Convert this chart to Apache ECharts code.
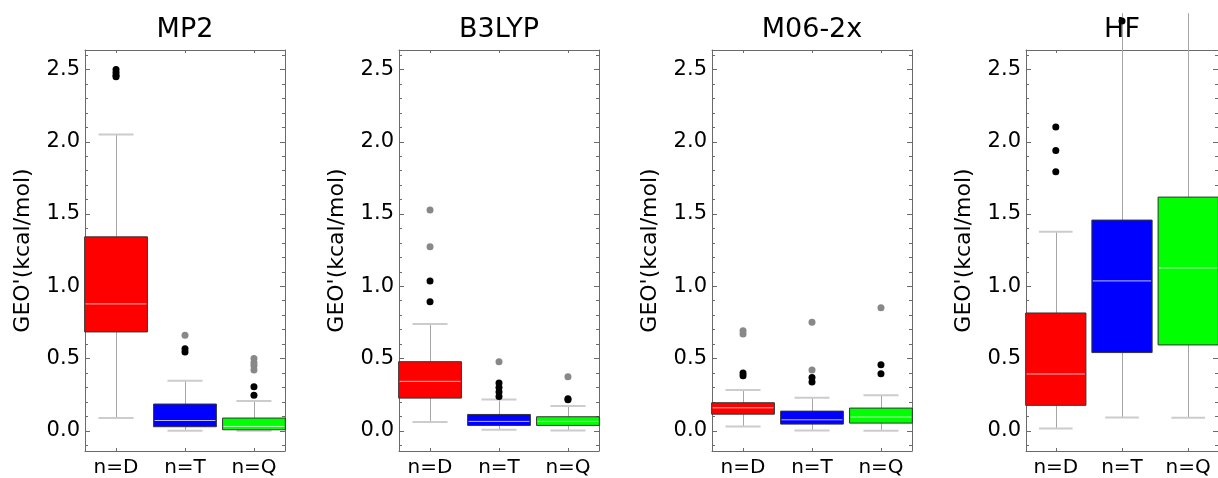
<!DOCTYPE html>
<html>
<head>
<meta charset="utf-8">
<title>GEO' box-whisker</title>
<script src="https://cdn.jsdelivr.net/npm/echarts@6/dist/echarts.min.js"></script>
<style>
  html, body { margin: 0; padding: 0; background: #fff; }
  #chart { width: 1218px; height: 478px; }
</style>
</head>
<body>
<div id="chart"></div>
<script>
// panel titles and box categories
const methods = ["MP2", "B3LYP", "M06-2x", "HF"];
const categories = ["n=D", "n=T", "n=Q"];

// box stats per category: [min, Q1, median, Q3, max]
const mp2Stats = [[0.088, 0.684, 0.878, 1.342, 2.051], [0.0, 0.028, 0.071, 0.185, 0.347], [0.0, 0.007, 0.030, 0.088, 0.206]];
const b3lypStats = [[0.060, 0.226, 0.342, 0.478, 0.739], [0.007, 0.037, 0.065, 0.113, 0.217], [0.002, 0.037, 0.065, 0.097, 0.171]];
const m06Stats = [[0.030, 0.115, 0.159, 0.194, 0.282], [0.002, 0.046, 0.076, 0.136, 0.229], [0.0, 0.053, 0.095, 0.157, 0.245]];
const hfStats = [[0.016, 0.176, 0.393, 0.815, 1.377], [0.092, 0.541, 1.037, 1.458, 2.89], [0.090, 0.594, 1.127, 1.617, 2.89]];

// outliers (near = black, far = gray), per category
const mp2Near = [[2.50, 2.48, 2.46, 2.45], [0.568, 0.545], [0.305, 0.245]];
const mp2Far = [[], [0.661], [0.50, 0.47, 0.45, 0.42]];
const b3lypNear = [[1.037, 0.892], [0.330, 0.300, 0.268, 0.238], [0.222, 0.215]];
const b3lypFar = [[1.527, 1.273], [0.478], [0.374]];
const m06Near = [[0.400, 0.381], [0.369, 0.337], [0.457, 0.395]];
const m06Far = [[0.693, 0.670], [0.751, 0.420], [0.852]];
const hfNear = [[2.102, 1.940, 1.793], [2.836], []];
const hfFar = [[], [], []];

// tick labels / tick values
const yLabelValues = [0, 0.5, 1.0, 1.5, 2.0, 2.5];
const yMinorValues = [-0.1, 0, 0.1, 0.2, 0.3, 0.4, 0.5, 0.6, 0.7, 0.8, 0.9, 1.0, 1.1, 1.2, 1.3,
  1.4, 1.5, 1.6, 1.7, 1.8, 1.9, 2.0, 2.1, 2.2, 2.3, 2.4, 2.5, 2.6];
const xTickValues = [1, 2, 3];

const allStats = [mp2Stats, b3lypStats, m06Stats, hfStats];
const allNear = [mp2Near, b3lypNear, m06Near, hfNear];
const allFar = [mp2Far, b3lypFar, m06Far, hfFar];

const boxColors = ["#ff0000", "#0000ff", "#00ff00"];
const FONT = "DejaVu Sans";
const FRAME = "#6a6a6a";
const Y_MIN = -0.14, Y_MAX = 2.635;
const X_MIN = 0.55, X_MAX = 3.45;
const BOX_HALF = 0.455, CAP_HALF = 0.254;
const panelLeft = [85, 399, 712, 1026];

const chart = echarts.init(document.getElementById("chart"), null, { renderer: "canvas" });

function renderBox(params, api) {
  const x = api.value(0);
  const vMax = api.value(5);
  const pMin = api.coord([x, api.value(1)]);
  const pQ1 = api.coord([x, api.value(2)]);
  const pMed = api.coord([x, api.value(3)]);
  const pQ3 = api.coord([x, api.value(4)]);
  const pMax = api.coord([x, vMax]);
  const left = api.coord([x - BOX_HALF, 0])[0];
  const right = api.coord([x + BOX_HALF, 0])[0];
  const capL = api.coord([x - CAP_HALF, 0])[0];
  const capR = api.coord([x + CAP_HALF, 0])[0];
  const cx = Math.round(pMin[0]) + 0.5;
  const whisker = { stroke: "#a6a6a6", lineWidth: 1 };
  const cap = { stroke: "#cccccc", lineWidth: 2 };
  const children = [
    { type: "line", shape: { x1: cx, y1: pMin[1], x2: cx, y2: pQ1[1] }, style: whisker },
    { type: "line", shape: { x1: cx, y1: pQ3[1], x2: cx, y2: pMax[1] }, style: whisker },
    { type: "line", shape: { x1: capL, y1: pMin[1], x2: capR, y2: pMin[1] }, style: cap }
  ];
  // the top cap only shows when it is inside the frame
  if (vMax <= Y_MAX) {
    children.push({ type: "line", shape: { x1: capL, y1: pMax[1], x2: capR, y2: pMax[1] }, style: cap });
  }
  children.push({
    type: "rect",
    shape: { x: left, y: pQ3[1], width: right - left, height: pQ1[1] - pQ3[1] },
    style: { fill: boxColors[params.dataIndex], stroke: "#333333", lineWidth: 1 }
  });
  children.push({
    type: "line",
    shape: { x1: left + 1, y1: pMed[1], x2: right - 1, y2: pMed[1] },
    style: { stroke: "rgba(255,255,255,0.75)", lineWidth: 1 }
  });
  return { type: "group", children: children };
}

const grid = [], xAxis = [], yAxis = [], series = [];

methods.forEach(function (name, i) {
  grid.push({ left: panelLeft[i], top: 50, width: 200, height: 401 });

  // bottom x axis with labels
  xAxis.push({
    type: "value", gridIndex: i, min: X_MIN, max: X_MAX, position: "bottom",
    axisLine: { show: true, onZero: false, lineStyle: { color: FRAME, width: 1 } },
    axisTick: { show: true, inside: true, length: 3, customValues: xTickValues, lineStyle: { color: FRAME } },
    axisLabel: {
      show: true, customValues: xTickValues, margin: 7,
      formatter: function (v) { return categories[Math.round(v) - 1]; },
      color: "#000", fontFamily: FONT, fontSize: 20
    },
    splitLine: { show: false }
  });
  // top x axis = frame + title
  xAxis.push({
    type: "value", gridIndex: i, min: X_MIN, max: X_MAX, position: "top",
    name: name, nameLocation: "middle", nameGap: 7,
    nameTextStyle: { color: "#000", fontFamily: FONT, fontSize: 27 },
    axisLine: { show: true, onZero: false, lineStyle: { color: FRAME, width: 1 } },
    axisTick: { show: true, inside: true, length: 3, customValues: xTickValues, lineStyle: { color: FRAME } },
    axisLabel: { show: false },
    splitLine: { show: false }
  });

  const yBase = { type: "value", gridIndex: i, min: Y_MIN, max: Y_MAX, splitLine: { show: false } };
  // left major with labels and name
  yAxis.push(Object.assign({}, yBase, {
    position: "left",
    name: "GEO'(kcal/mol)", nameLocation: "middle", nameGap: 51, nameRotate: 90,
    nameTextStyle: { color: "#000", fontFamily: FONT, fontSize: 22 },
    axisLine: { show: true, onZero: false, lineStyle: { color: FRAME, width: 1 } },
    axisTick: { show: true, inside: true, length: 5, customValues: yLabelValues, lineStyle: { color: FRAME } },
    axisLabel: {
      show: true, customValues: yLabelValues, margin: 5,
      formatter: function (v) { return v.toFixed(1); },
      color: "#000", fontFamily: FONT, fontSize: 21
    }
  }));
  // left minor ticks
  yAxis.push(Object.assign({}, yBase, {
    position: "left",
    axisLine: { show: false, onZero: false },
    axisTick: { show: true, inside: true, length: 3, customValues: yMinorValues, lineStyle: { color: FRAME } },
    axisLabel: { show: false }
  }));
  // right major ticks + frame
  yAxis.push(Object.assign({}, yBase, {
    position: "right",
    axisLine: { show: true, onZero: false, lineStyle: { color: FRAME, width: 1 } },
    axisTick: { show: true, inside: true, length: 5, customValues: yLabelValues, lineStyle: { color: FRAME } },
    axisLabel: { show: false }
  }));
  // right minor ticks
  yAxis.push(Object.assign({}, yBase, {
    position: "right",
    axisLine: { show: false, onZero: false },
    axisTick: { show: true, inside: true, length: 3, customValues: yMinorValues, lineStyle: { color: FRAME } },
    axisLabel: { show: false }
  }));

  series.push({
    type: "custom", name: name, xAxisIndex: 2 * i, yAxisIndex: 4 * i,
    renderItem: renderBox, clip: false,
    encode: { x: 0, y: [1, 2, 3, 4, 5] },
    data: allStats[i].map(function (s, k) { return [xTickValues[k]].concat(s); }),
    z: 2
  });
  series.push({
    type: "scatter", xAxisIndex: 2 * i, yAxisIndex: 4 * i, clip: false,
    symbolSize: 7, itemStyle: { color: "#000", opacity: 1 }, z: 3,
    data: allNear[i].flatMap(function (vals, k) { return vals.map(function (v) { return [xTickValues[k], v]; }); })
  });
  series.push({
    type: "scatter", xAxisIndex: 2 * i, yAxisIndex: 4 * i, clip: false,
    symbolSize: 7, itemStyle: { color: "#888888", opacity: 1 }, z: 3,
    data: allFar[i].flatMap(function (vals, k) { return vals.map(function (v) { return [xTickValues[k], v]; }); })
  });
});

chart.setOption({
  animation: false,
  backgroundColor: "#fff",
  grid: grid,
  xAxis: xAxis,
  yAxis: yAxis,
  series: series
});
</script>
</body>
</html>
